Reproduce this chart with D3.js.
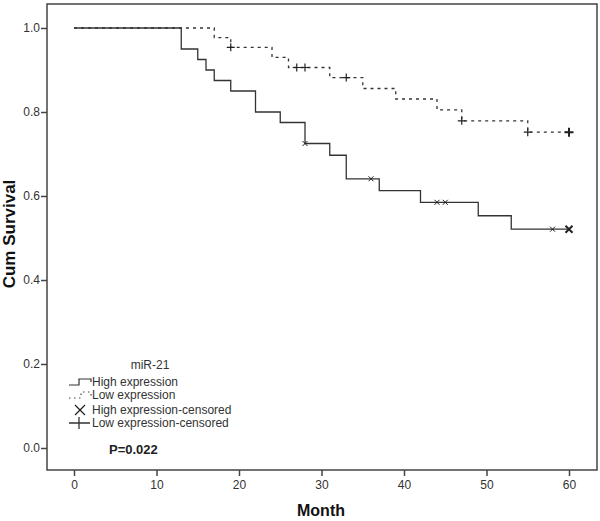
<!DOCTYPE html>
<html><head><meta charset="utf-8">
<script src="https://cdn.jsdelivr.net/npm/d3@7"></script>
<style>body{margin:0;background:#fff}text{font-family:Arial,"Liberation Sans",sans-serif}</style>
</head><body><svg id="c" width="600" height="521"></svg>
<script>
// Data
const highTimes = [0, 13, 15, 16, 17, 19, 22, 25, 28, 31, 33, 37, 42, 49, 53, 60];
const highSurv  = [1.0, 0.95, 0.925, 0.9, 0.875, 0.85, 0.8, 0.775, 0.725, 0.697, 0.641, 0.613, 0.585, 0.553, 0.521, 0.521];
const highCensorTimes = [28, 36, 44, 45, 58, 60];
const lowTimes = [0, 17, 19, 24, 26, 31, 35, 39, 44, 47, 55, 60];
const lowSurv  = [1.0, 0.977, 0.954, 0.93, 0.906, 0.882, 0.856, 0.831, 0.805, 0.779, 0.752, 0.752];
const lowCensorTimes = [19, 27, 28, 33, 47, 55, 60];
const xTicks = [0, 10, 20, 30, 40, 50, 60];
const yTicks = [0.0, 0.2, 0.4, 0.6, 0.8, 1.0];
const legendTitle = "miR-21";
const legendLabels = ["High expression", "Low expression", "High expression-censored", "Low expression-censored"];
const pText = "P=0.022";

const svg = d3.select("#c");
const x = d3.scaleLinear().domain([0, 60]).range([74, 569]);
const y = d3.scaleLinear().domain([0, 1]).range([448, 28]);
const frame = {l: 47, r: 597, t: 4, b: 470};
const axisCol = "#444";

function survAt(times, surv, t) {
  let v = surv[0];
  for (let i = 0; i < times.length; i++) if (times[i] <= t) v = surv[i];
  return v;
}

// frame
svg.append("rect").attr("x", frame.l).attr("y", frame.t).attr("width", frame.r - frame.l).attr("height", frame.b - frame.t)
  .attr("fill", "none").attr("stroke", axisCol).attr("stroke-width", 1.5);

// x axis
const xa = svg.append("g").attr("transform", `translate(0,${frame.b})`)
  .call(d3.axisBottom(x).tickValues(xTicks).tickFormat(d3.format("d")).tickSize(6).tickSizeOuter(0));
xa.select(".domain").remove();
xa.selectAll("line").attr("stroke", axisCol).attr("stroke-width", 1.5);
xa.selectAll("text").attr("font-size", 12).attr("fill", "#333").attr("dy", "0.85em");

// y axis
const ya = svg.append("g").attr("transform", `translate(${frame.l},0)`)
  .call(d3.axisLeft(y).tickValues(yTicks).tickFormat(d3.format(".1f")).tickSize(6).tickSizeOuter(0));
ya.select(".domain").remove();
ya.selectAll("line").attr("stroke", axisCol).attr("stroke-width", 1.5);
ya.selectAll("text").attr("font-size", 12).attr("fill", "#333").attr("x", -7);

// axis titles
svg.append("text").attr("x", 321).attr("y", 516).attr("text-anchor", "middle")
  .attr("font-size", 16).attr("font-weight", "bold").attr("fill", "#111").text("Month");
svg.append("text").attr("transform", "translate(15,234) rotate(-90)").attr("text-anchor", "middle")
  .attr("font-size", 17).attr("font-weight", "bold").attr("fill", "#111").text("Cum Survival");

// curves
const lineGen = d3.line().x(d => x(d[0])).y(d => y(d[1])).curve(d3.curveStepAfter);
svg.append("path").datum(highTimes.map((t, i) => [t, highSurv[i]]))
  .attr("d", lineGen).attr("fill", "none").attr("stroke", "#333").attr("stroke-width", 1.3);
svg.append("path").datum(lowTimes.map((t, i) => [t, lowSurv[i]]))
  .attr("d", lineGen).attr("fill", "none").attr("stroke", "#333").attr("stroke-width", 1.3)
  .attr("stroke-dasharray", "3,4");

// censor marks
function xMark(g, cx, cy, s, w) {
  g.append("path").attr("d", `M${cx - s},${cy - s}L${cx + s},${cy + s}M${cx - s},${cy + s}L${cx + s},${cy - s}`)
    .attr("stroke", "#222").attr("stroke-width", w).attr("fill", "none");
}
function plusMark(g, cx, cy, s, w) {
  g.append("path").attr("d", `M${cx - s},${cy}L${cx + s},${cy}M${cx},${cy - s}L${cx},${cy + s}`)
    .attr("stroke", "#222").attr("stroke-width", w).attr("fill", "none");
}
const marks = svg.append("g");
highCensorTimes.forEach((t, i) => {
  const last = i === highCensorTimes.length - 1;
  xMark(marks, x(t), y(survAt(highTimes, highSurv, t)), last ? 3.5 : 2.5, last ? 2 : 1);
});
lowCensorTimes.forEach((t, i) => {
  const last = i === lowCensorTimes.length - 1;
  plusMark(marks, x(t), y(survAt(lowTimes, lowSurv, t)), last ? 4.5 : 4, last ? 2 : 1.2);
});

// legend
const lg = svg.append("g");
lg.append("text").attr("x", 150).attr("y", 369).attr("text-anchor", "middle").attr("font-size", 12).attr("fill", "#333").text(legendTitle);
const rows = [382, 395, 410, 423];
rows.forEach((ry, i) => {
  lg.append("text").attr("x", 92).attr("y", ry + 4).attr("font-size", 12).attr("fill", "#333").text(legendLabels[i]);
});
// symbols
lg.append("path").attr("d", `M69,${rows[0] + 3}L79,${rows[0] + 3}L79,${rows[0] - 3}L91,${rows[0] - 3}L91,${rows[0]}`)
  .attr("fill", "none").attr("stroke", "#333").attr("stroke-width", 1.2);
lg.append("path").attr("d", `M69,${rows[1] + 3}L81,${rows[1] + 3}L81,${rows[1] - 3}L91,${rows[1] - 3}L91,${rows[1] + 1}`)
  .attr("fill", "none").attr("stroke", "#444").attr("stroke-width", 1.2).attr("stroke-dasharray", "1.5,3.5");
xMark(lg, 80, rows[2], 5, 1.3);
lg.append("path").attr("d", `M69,${rows[3]}L90,${rows[3]}M79,${rows[3] - 6}L79,${rows[3] + 6}`)
  .attr("stroke", "#333").attr("stroke-width", 1.3);
lg.append("text").attr("x", 109).attr("y", 454).attr("font-size", 13).attr("font-weight", "bold").attr("fill", "#222").text(pText);
</script></body></html>
